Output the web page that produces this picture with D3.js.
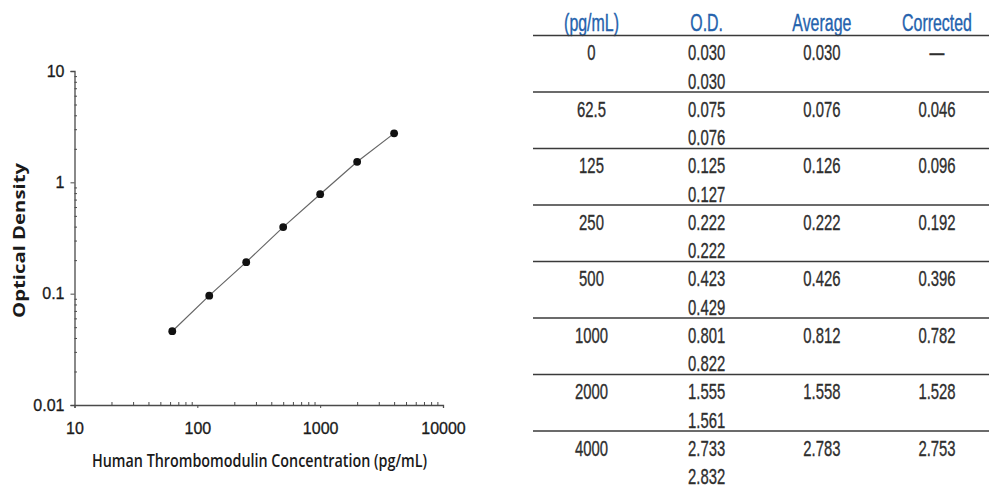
<!DOCTYPE html>
<html>
<head>
<meta charset="utf-8">
<script src="https://cdn.jsdelivr.net/npm/d3@7"></script>
<style>
  body { margin: 0; background: #fff; }
  svg { display: block; }
</style>
</head>
<body>
<svg id="chart" width="989" height="488"></svg>
<script>
// standard curve data
const concentrations = [0, 62.5, 125, 250, 500, 1000, 2000, 4000];
const odRep1 = [0.030, 0.075, 0.125, 0.222, 0.423, 0.801, 1.555, 2.733];
const odRep2 = [0.030, 0.076, 0.127, 0.222, 0.429, 0.822, 1.561, 2.832];
const odAverage = [0.030, 0.076, 0.126, 0.222, 0.426, 0.812, 1.558, 2.783];
const odCorrected = [null, 0.046, 0.096, 0.192, 0.396, 0.782, 1.528, 2.753];
const tableHeaders = ["(pg/mL)", "O.D.", "Average", "Corrected"];
const xTickValues = [10, 100, 1000, 10000];
const yTickValues = [0.01, 0.1, 1, 10];
const xLabel = "Human Thrombomodulin Concentration (pg/mL)";
const yLabel = "Optical Density";

const svg = d3.select("#chart");
const sans = "'Liberation Sans', Arial, sans-serif";

// ---- plot ----
const x = d3.scaleLog().domain([10, 10000]).range([74.5, 443]);
const y = d3.scaleLog().domain([0.01, 10]).range([405, 71]);

const minors = (lo, hi) => {
  let out = [];
  for (let d = lo; d < hi; d *= 10) for (let m = 2; m <= 9; m++) out.push(d * m);
  return out;
};

const axisColor = "#4a4a4a";

svg.append("g").attr("transform", "translate(74.5,0)")
  .call(d3.axisLeft(y).tickValues(yTickValues).tickSize(4).tickPadding(6)
    .tickFormat(d => d >= 1 ? d3.format("d")(d) : String(d)));
svg.append("g").attr("transform", "translate(74.5,0)")
  .call(d3.axisRight(y).tickValues(minors(0.01, 10)).tickSize(2.5).tickFormat(""))
  .select(".domain").remove();

svg.append("g").attr("transform", "translate(0,405)")
  .call(d3.axisBottom(x).tickValues(xTickValues).tickSize(3).tickPadding(15)
    .tickFormat(d3.format("d")));
svg.append("g").attr("transform", "translate(0,405)")
  .call(d3.axisTop(x).tickValues(minors(10, 10000)).tickSize(3).tickFormat(""))
  .select(".domain").remove();

svg.selectAll(".domain").attr("stroke", axisColor).attr("stroke-width", 1.3);
svg.selectAll(".tick line").attr("stroke", axisColor).attr("stroke-width", 1);
svg.selectAll(".tick text")
  .attr("font-family", sans).attr("font-size", 16).attr("fill", "#1a1a1a")
  .attr("stroke", "#1a1a1a").attr("stroke-width", 0.3);

const pts = concentrations.map((c, i) => ({ c, v: odCorrected[i] })).filter(d => d.v != null);

svg.append("path").datum(pts)
  .attr("fill", "none").attr("stroke", "#666").attr("stroke-width", 1.2)
  .attr("d", d3.line().x(d => x(d.c)).y(d => y(d.v)));

svg.selectAll("circle.pt").data(pts).enter().append("circle")
  .attr("class", "pt")
  .attr("cx", d => x(d.c)).attr("cy", d => y(d.v)).attr("r", 3.9)
  .attr("fill", "#111");

svg.append("text")
  .attr("x", 259.5).attr("y", 467)
  .attr("text-anchor", "middle")
  .attr("font-family", "'Open Sans', sans-serif").attr("font-weight", 600)
  .attr("font-size", 17.5).attr("fill", "#1a1a1a")
  .attr("textLength", 335).attr("lengthAdjust", "spacingAndGlyphs")
  .text(xLabel);

svg.append("text")
  .attr("transform", "translate(25,240.5) rotate(-90)")
  .attr("text-anchor", "middle")
  .attr("font-family", "'Open Sans', sans-serif").attr("font-weight", 700)
  .attr("font-size", 16).attr("fill", "#1a1a1a")
  .attr("textLength", 155).attr("lengthAdjust", "spacingAndGlyphs")
  .text(yLabel);

// ---- table ----
const col = d3.scalePoint().domain(tableHeaders).range([591.5, 937]);
const row = d3.scaleBand().domain(d3.range(concentrations.length)).range([35.5, 35.5 + 8 * 56.5]);
const f3 = d3.format(".3f");

const tbl = svg.append("g");

// condensed look: squeeze horizontally with a scale transform
tbl.selectAll("text.head").data(tableHeaders).enter().append("text")
  .attr("class", "head")
  .attr("transform", d => `translate(${col(d)},31) scale(0.65,1)`)
  .attr("text-anchor", "middle")
  .attr("font-family", sans).attr("font-size", 24.5).attr("fill", "#2462ad")
  .attr("stroke", "#2462ad").attr("stroke-width", 0.4)
  .text(d => d);

tbl.selectAll("line.rule").data(d3.range(concentrations.length)).enter().append("line")
  .attr("class", "rule")
  .attr("x1", 533).attr("x2", 989)
  .attr("y1", d => row(d)).attr("y2", d => row(d))
  .attr("stroke", "#3a3a3a").attr("stroke-width", 1.4);

const cells = [];
concentrations.forEach((c, i) => {
  const top = row(i);
  cells.push({ col: tableHeaders[0], y: top + 24.5, t: String(c) });
  cells.push({ col: tableHeaders[1], y: top + 24.5, t: f3(odRep1[i]) });
  cells.push({ col: tableHeaders[1], y: top + 53, t: f3(odRep2[i]) });
  cells.push({ col: tableHeaders[2], y: top + 24.5, t: f3(odAverage[i]) });
  cells.push({ col: tableHeaders[3], y: top + 24.5, t: odCorrected[i] == null ? "\u2014" : f3(odCorrected[i]) });
});

tbl.selectAll("text.cell").data(cells).enter().append("text")
  .attr("class", "cell")
  .attr("transform", d => `translate(${col(d.col)},${d.y}) scale(0.66,1)`)
  .attr("text-anchor", "middle")
  .attr("font-family", sans).attr("font-size", 22.5).attr("fill", "#2e2e2e")
  .attr("stroke", "#2e2e2e").attr("stroke-width", 0.35)
  .text(d => d.t);
</script>
</body>
</html>
